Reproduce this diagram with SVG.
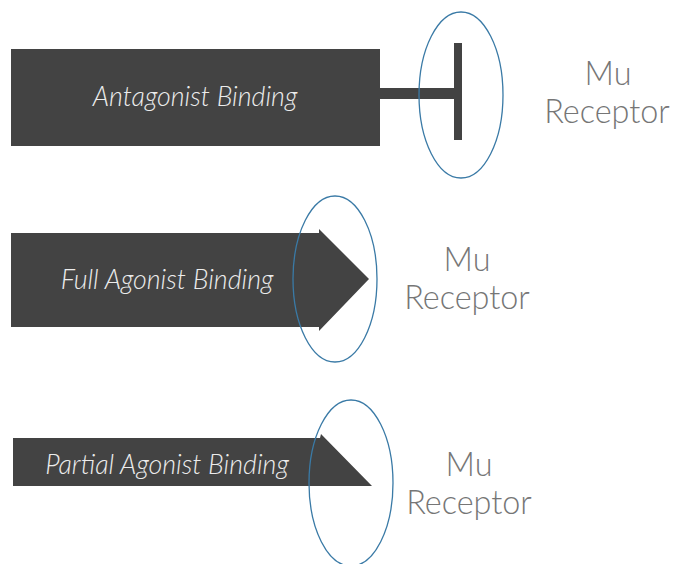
<svg xmlns="http://www.w3.org/2000/svg" width="674" height="564" viewBox="0 0 674 564">
<style>
.shape{fill:#434343;}
.ring{fill:none;stroke:#3a7aa6;stroke-width:1.3;}
.lbl{font-family:Lato,"Open Sans","Liberation Sans",sans-serif;font-style:italic;font-weight:300;font-size:26.8px;fill:#ececec;text-anchor:middle;}
.rec{font-family:Lato,"Open Sans","Liberation Sans",sans-serif;font-weight:300;font-size:32.4px;fill:#767676;text-anchor:middle;}
</style>
<rect width="674" height="564" fill="#ffffff"/>
<g id="antagonist">
<rect class="shape" x="11" y="49" width="369" height="97"/>
<text class="lbl" x="195" y="106">Antagonist Binding</text>
</g>
<g id="connectors">
<rect class="shape" x="380" y="88" width="82" height="11"/>
<rect class="shape" x="454" y="43" width="8" height="97"/>
</g>
<g id="receptor1">
<ellipse class="ring" cx="461" cy="95" rx="42" ry="83"/>
<text class="rec" x="608" y="85">Mu</text>
<text class="rec" x="607" y="123">Receptor</text>
</g>
<g id="full-agonist">
<polygon class="shape" points="11,233 319,233 319,229 369,279 319,331 319,327 11,327"/>
<text class="lbl" x="167" y="289">Full Agonist Binding</text>
</g>
<g id="receptor2">
<ellipse class="ring" cx="335" cy="279" rx="42" ry="83"/>
<text class="rec" x="467" y="271">Mu</text>
<text class="rec" x="467" y="309">Receptor</text>
</g>
<g id="partial-agonist">
<polygon class="shape" points="13,438 320,438 321,434 372,486 13,486"/>
<text class="lbl" x="167" y="474">Partial Agonist Binding</text>
</g>
<g id="receptor3">
<ellipse class="ring" cx="351" cy="483" rx="42" ry="83"/>
<text class="rec" x="469" y="476">Mu</text>
<text class="rec" x="469" y="514">Receptor</text>
</g>
</svg>
